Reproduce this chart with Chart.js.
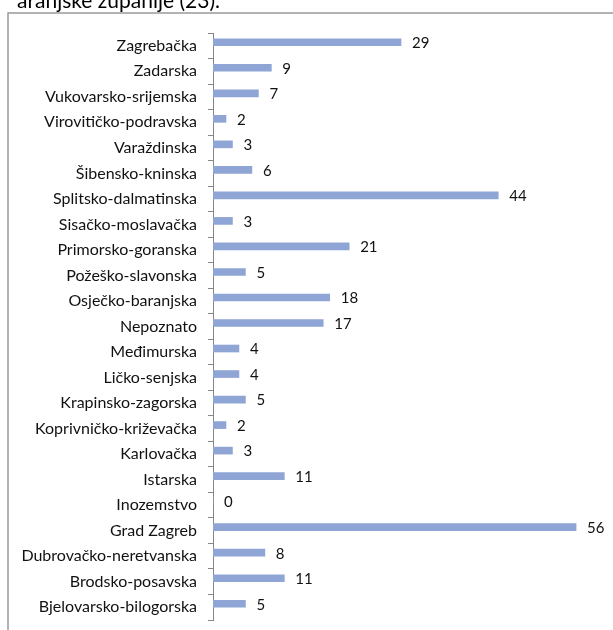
<!DOCTYPE html>
<html>
<head>
<meta charset="utf-8">
<script src="https://cdn.jsdelivr.net/npm/chart.js@4/dist/chart.umd.min.js"></script>
<style>
    html, body { margin: 0; padding: 0; background: #fff; }
    #wrap { position: relative; width: 613px; height: 630px; overflow: hidden; }
</style>
</head>
<body>
<div id="wrap"><canvas id="county-chart" width="613" height="630"></canvas></div>
<script>
// counties, top to bottom as in the picture
var counties = [
    'Zagrebačka', 'Zadarska', 'Vukovarsko-srijemska', 'Virovitičko-podravska',
    'Varaždinska', 'Šibensko-kninska', 'Splitsko-dalmatinska', 'Sisačko-moslavačka',
    'Primorsko-goranska', 'Požeško-slavonska', 'Osječko-baranjska', 'Nepoznato',
    'Međimurska', 'Ličko-senjska', 'Krapinsko-zagorska', 'Koprivničko-križevačka',
    'Karlovačka', 'Istarska', 'Inozemstvo', 'Grad Zagreb',
    'Dubrovačko-neretvanska', 'Brodsko-posavska', 'Bjelovarsko-bilogorska'
];
var counts = [29, 9, 7, 2, 3, 6, 44, 3, 21, 5, 18, 17, 4, 4, 5, 2, 3, 11, 0, 56, 8, 11, 5];
var captionTail = 'aranjske županije (23).';

(function(){
    const FONT = 'Lato, "Liberation Sans", Arial, sans-serif';

    // empty second series only makes room so bars sit a bit above band centre, like the original
    var spacer = counties.map(function(){ return null; });

    /**
     * Grey frame and the cut-off caption line above it.
     */
    var framePlugin = {
        id: 'frame',
        beforeDraw: function(chart){
            var ctx = chart.ctx;
            ctx.save();
            ctx.fillStyle = '#000';
            ctx.font = '21px ' + FONT;
            ctx.textAlign = 'right';
            ctx.textBaseline = 'alphabetic';
            ctx.fillText(captionTail, 220, 8);
            ctx.strokeStyle = '#9a9a9a';
            ctx.lineWidth = 1.5;
            ctx.strokeRect(8, 13, 610, 700);
            ctx.restore();
        }
    };

    /**
     * Value next to each bar end.
     */
    var valuePlugin = {
        id: 'values',
        afterDatasetsDraw: function(chart){
            var ctx = chart.ctx;
            var meta = chart.getDatasetMeta(0);
            ctx.save();
            ctx.fillStyle = '#111';
            ctx.font = '15px ' + FONT;
            ctx.textAlign = 'left';
            ctx.textBaseline = 'middle';
            meta.data.forEach(function(bar, i){
                ctx.fillText(String(counts[i]), bar.x + 11, bar.y + 1);
            });
            ctx.restore();
        }
    };

    var ctx = document.getElementById('county-chart').getContext('2d');
    new Chart(ctx, {
        type: 'bar',
        data: {
            labels: counties,
            datasets: [{
                data: counts,
                backgroundColor: '#8fa5d6',
                borderWidth: 0,
                barThickness: 7
            }, {
                data: spacer,
                backgroundColor: 'rgba(0,0,0,0)',
                borderWidth: 0,
                barThickness: 7
            }]
        },
        options: {
            indexAxis: 'y',
            responsive: false,
            animation: false,
            devicePixelRatio: 1,
            layout: { padding: { top: 33, bottom: 10, right: 11, left: 0 } },
            plugins: {
                legend: { display: false },
                tooltip: { enabled: false }
            },
            scales: {
                x: { display: false, min: 0, max: 60 },
                y: {
                    offset: true,
                    afterFit: function(scale){
                        scale.width = 213;
                        scale.paddingTop = 0;
                        scale.paddingBottom = 0;
                    },
                    grid: {
                        drawOnChartArea: false,
                        tickLength: 5,
                        color: '#868686'
                    },
                    border: { color: '#868686', width: 1 },
                    ticks: {
                        padding: 11,
                        color: '#111',
                        font: { family: FONT, size: 16 }
                    }
                }
            }
        },
        plugins: [framePlugin, valuePlugin]
    });
})();
</script>
</body>
</html>
